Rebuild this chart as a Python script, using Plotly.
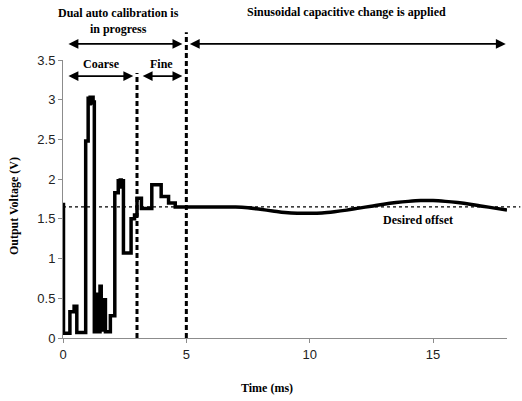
import plotly.graph_objects as go

# --- data -------------------------------------------------------------
# calibration phase (step-shaped output), time in ms, voltage in V
cal_t = [0, 0.02, 0.28, 0.45, 0.56, 0.92, 1.02, 1.06, 1.10, 1.14, 1.18, 1.22,
         1.27, 1.33, 1.38, 1.42, 1.46, 1.50, 1.55, 1.58, 1.62, 1.66, 1.72,
         1.92, 2.10, 2.24, 2.28, 2.32, 2.36, 2.40, 2.45, 2.76, 2.90, 3.00,
         3.18, 3.60, 3.98, 4.28, 4.55, 5.0]
cal_v = [1.68, 0.06, 0.33, 0.40, 0.07, 2.48, 3.02, 2.95, 3.03, 2.96, 3.03, 2.97,
         0.08, 0.55, 0.10, 0.50, 0.08, 0.65, 0.10, 0.45, 0.10, 0.48, 0.08,
         0.28, 1.83, 1.98, 1.90, 1.99, 1.92, 1.98, 1.07, 1.50, 1.55, 1.76,
         1.63, 1.93, 1.78, 1.70, 1.65, 1.65]

# sinusoidal capacitive change phase
sin_t = [5, 5.5, 6, 6.5, 7, 7.5, 8, 8.5, 9, 9.5, 10, 10.5, 11, 11.5, 12, 12.5,
         13, 13.5, 14, 14.5, 15, 15.5, 16, 16.5, 17, 17.5, 18]
sin_v = [1.65, 1.65, 1.65, 1.65, 1.65, 1.64, 1.62, 1.60, 1.58, 1.57, 1.57,
         1.575, 1.59, 1.61, 1.635, 1.66, 1.685, 1.705, 1.72, 1.73, 1.73, 1.72,
         1.705, 1.685, 1.66, 1.635, 1.61]

desired_offset = 1.65
coarse_end = 3.0
calib_end = 5.0

x_ticks = [0, 5, 10, 15]
y_ticks = [0, 0.5, 1, 1.5, 2, 2.5, 3, 3.5]
X_MAX = 18
Y_MAX = 3.5

# --- figure -----------------------------------------------------------
SERIF = "Liberation Serif"
SANS = "Liberation Sans"
INK = "black"

fig = go.Figure()
fig.add_trace(go.Scatter(x=cal_t, y=cal_v, mode="lines", line_shape="hv",
                         line=dict(color=INK, width=3.5), showlegend=False))
fig.add_trace(go.Scatter(x=sin_t, y=sin_v, mode="lines", line_shape="spline",
                         line=dict(color=INK, width=3.5), showlegend=False))


def px(t):
    return t / X_MAX


def py(v):
    return v / Y_MAX


# desired offset dotted line
fig.add_shape(type="line", xref="paper", yref="paper", x0=0, x1=1.03,
              y0=py(desired_offset), y1=py(desired_offset),
              line=dict(color=INK, width=1.3, dash="dot"), layer="below")
# phase boundaries
fig.add_shape(type="line", xref="paper", yref="paper", x0=px(coarse_end), x1=px(coarse_end),
              y0=0, y1=0.953, line=dict(color=INK, width=3, dash="5px,3px"))
fig.add_shape(type="line", xref="paper", yref="paper", x0=px(calib_end), x1=px(calib_end),
              y0=0, y1=1.10, line=dict(color=INK, width=3, dash="5px,3px"))


def darrow(t0, t1, yp):
    fig.add_annotation(x=t1, y=yp, ax=t0, ay=0, xref="x", yref="paper",
                       axref="x", ayref="pixel", text="", showarrow=True,
                       arrowhead=2, startarrowhead=2, arrowside="end+start",
                       arrowsize=1.1, startarrowsize=1.1, arrowwidth=1.8,
                       arrowcolor=INK, standoff=0, startstandoff=0)


darrow(0.16, 4.84, 1.058)
darrow(5.08, 17.95, 1.058)
darrow(0.16, 2.85, 0.942)
darrow(3.17, 4.84, 0.942)

tfont = dict(family=SERIF, size=12, color=INK)


def label(text, x, y, xref="x", yref="paper", angle=0):
    fig.add_annotation(x=x, y=y, xref=xref, yref=yref, text="<b>" + text + "</b>",
                       showarrow=False, font=tfont, textangle=angle,
                       xanchor="center", yanchor="middle", align="center")


label("Dual auto calibration is<br>in progress", 2.26, 1.14)
label("Sinusoidal capacitive change is applied", 11.5, 1.173)
label("Coarse", 1.55, 0.985)
label("Fine", 4.0, 0.985)
label("Desired offset", 14.4, 1.48, yref="y")
label("Output Voltage (V)", -0.11, 0.475, xref="paper", angle=-90)
label("Time (ms)", 0.46, -0.18, xref="paper")

axis_common = dict(showgrid=False, zeroline=False, showline=True,
                   linecolor="#8c8c8c", linewidth=1, ticks="outside",
                   tickcolor="#8c8c8c", ticklen=4,
                   tickfont=dict(family=SANS, size=13, color="#222"))
fig.update_xaxes(range=[0, X_MAX], tickvals=x_ticks, **axis_common)
fig.update_yaxes(range=[0, Y_MAX], tickvals=y_ticks, **axis_common)

fig.update_layout(width=522, height=401, margin=dict(l=63, r=15, t=60, b=63),
                  plot_bgcolor="white", paper_bgcolor="white")

fig.write_html("out.html")
